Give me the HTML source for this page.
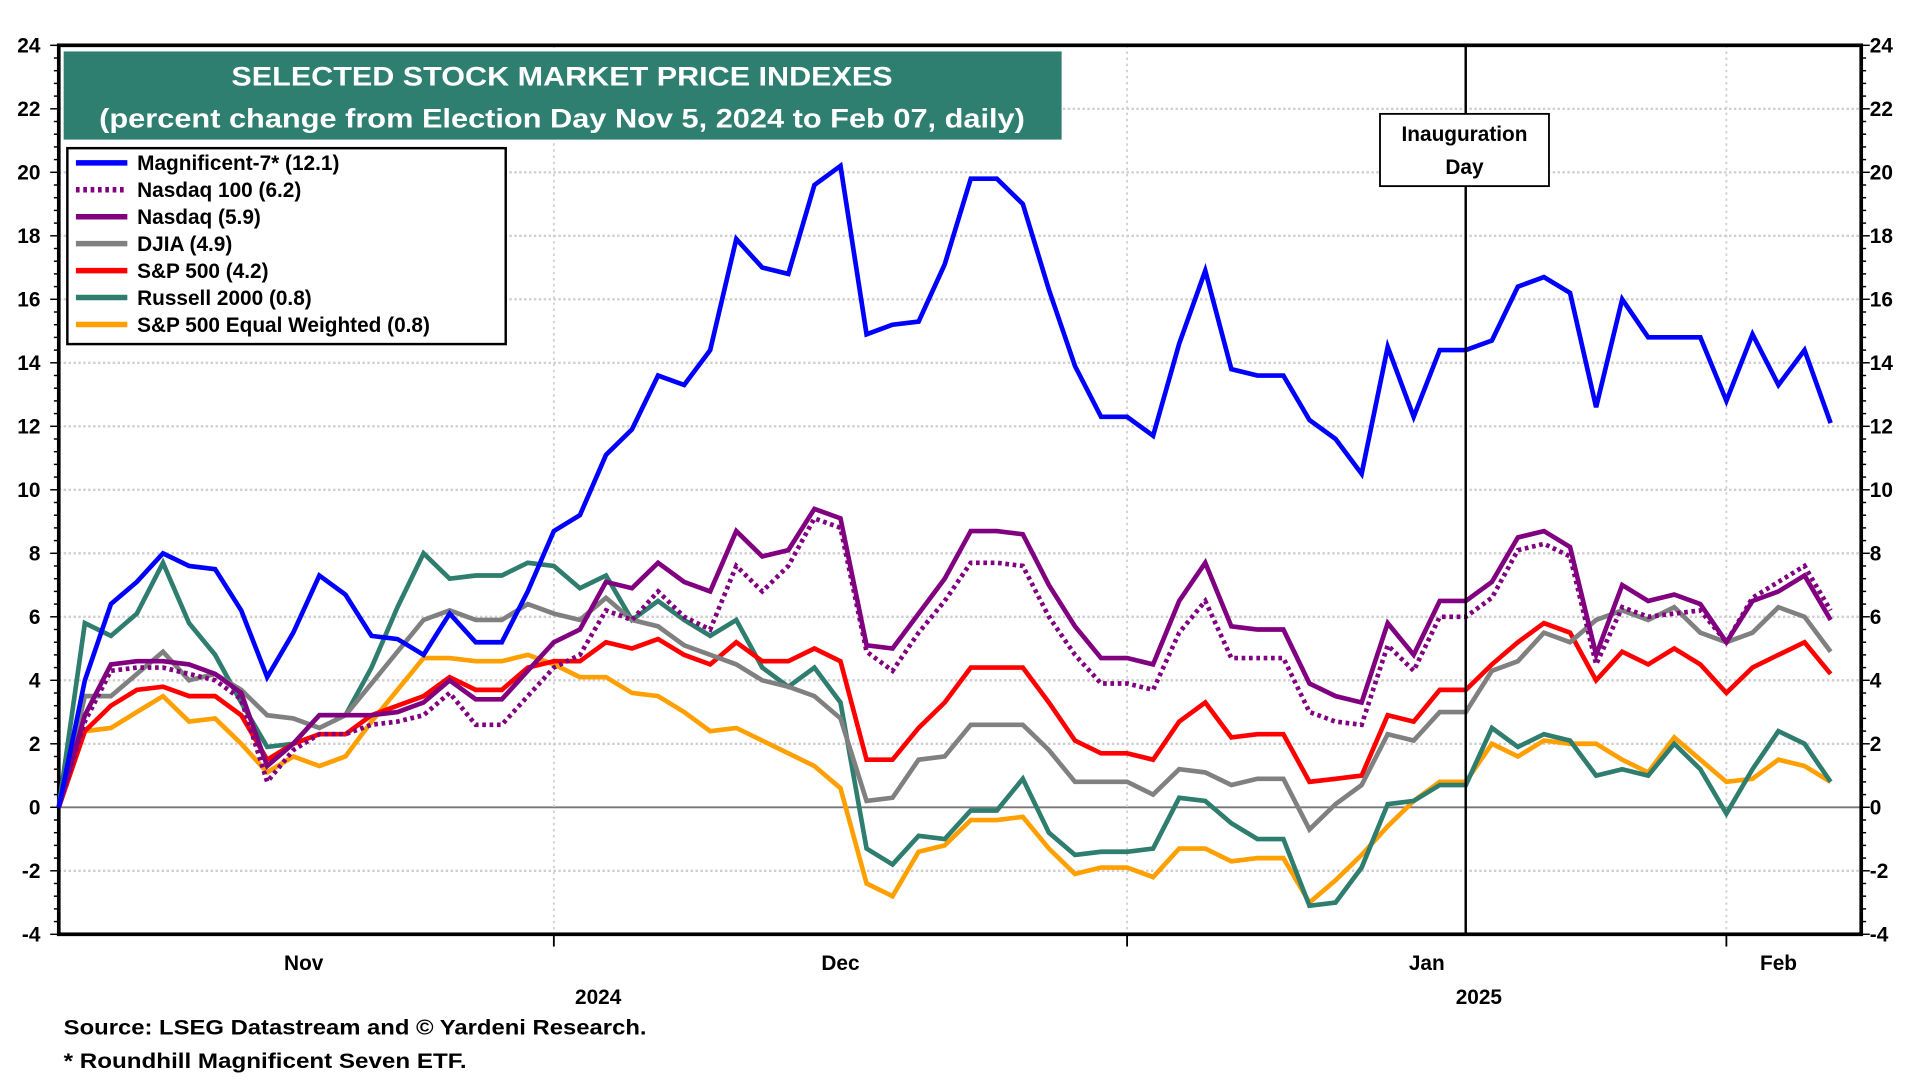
<!DOCTYPE html>
<html><head><meta charset="utf-8"><style>
html,body{margin:0;padding:0;background:#fff;}
svg{display:block;font-family:"Liberation Sans",Arial,sans-serif;font-weight:bold;}
</style></head><body>
<svg id="chart" width="1920" height="1080" viewBox="0 0 1568 882" preserveAspectRatio="none" xmlns="http://www.w3.org/2000/svg">
<g id="grid"></g>
<g id="axes"></g>
<g id="series"></g>
<g>
<rect x="52" y="42" width="815" height="72" fill="#2F7F70"/>
<text x="459" y="70" fill="#fff" font-size="22" text-anchor="middle" textLength="540" lengthAdjust="spacingAndGlyphs">SELECTED STOCK MARKET PRICE INDEXES</text>
<text x="459" y="104" fill="#fff" font-size="22" text-anchor="middle" textLength="756" lengthAdjust="spacingAndGlyphs">(percent change from Election Day Nov 5, 2024 to Feb 07, daily)</text>
</g>
<g id="legend">
<rect x="55" y="121" width="358" height="160" fill="#fff" stroke="#000" stroke-width="2"/>
</g>
<g>
<line x1="1197" y1="37" x2="1197" y2="763" stroke="#000" stroke-width="2"/>
<rect x="1127" y="93" width="138" height="59" fill="#fff" stroke="#000" stroke-width="1.5"/>
<text x="1196" y="115" font-size="17" text-anchor="middle">Inauguration</text>
<text x="1196" y="142" font-size="17" text-anchor="middle">Day</text>
</g>
<text x="52" y="845" font-size="17" textLength="476" lengthAdjust="spacingAndGlyphs">Source: LSEG Datastream and © Yardeni Research.</text>
<text x="52" y="872" font-size="17" textLength="329" lengthAdjust="spacingAndGlyphs">* Roundhill Magnificent Seven ETF.</text>
</svg>
<script>
const yTicks = [-4,-2,0,2,4,6,8,10,12,14,16,18,20,22,24];
const monthLabels = ["Nov","Dec","Jan","Feb"];
const monthLabelIdx = [9.4,30,52.5,66];
const monthStartIdx = [19,41,64];
const yearLabels = ["2024","2025"];
const yearLabelIdx = [20.7,54.5];
const inaugurationIdx = 54;
const seriesNames = ["Magnificent-7* (12.1)","Nasdaq 100 (6.2)","Nasdaq (5.9)","DJIA (4.9)","S&P 500 (4.2)","Russell 2000 (0.8)","S&P 500 Equal Weighted (0.8)"];
const mag7 = [0,4.0,6.4,7.1,8.0,7.6,7.5,6.2,4.1,5.5, 7.3,6.7,5.4,5.3,4.8,6.1,5.2,5.2,6.8,8.7, 9.2,11.1,11.9,13.6,13.3,14.4,17.9,17.0,16.8,19.6, 20.2,14.9,15.2,15.3,17.1,19.8,19.8,19.0,16.3,13.9, 12.3,12.3,11.7,14.6,16.9,13.8,13.6,13.6,12.2,11.6, 10.5,14.5,12.3,14.4,14.4,14.7,16.4,16.7,16.2,12.6, 16.0,14.8,14.8,14.8,12.8,14.9,13.3,14.4,12.1];
const nasdaq100 = [0,2.7,4.3,4.4,4.4,4.2,4.0,3.4,0.8,1.8, 2.3,2.3,2.6,2.7,2.9,3.6,2.6,2.6,3.5,4.4, 4.8,6.2,5.9,6.8,6.0,5.6,7.6,6.8,7.6,9.1, 8.8,4.9,4.3,5.5,6.5,7.7,7.7,7.6,6.0,4.8, 3.9,3.9,3.7,5.5,6.5,4.7,4.7,4.7,3.0,2.7, 2.6,5.1,4.3,6.0,6.0,6.6,8.1,8.3,7.9,4.5, 6.3,6.0,6.1,6.2,5.2,6.6,7.1,7.6,6.2];
const nasdaq = [0,2.9,4.5,4.6,4.6,4.5,4.2,3.6,1.3,2.0, 2.9,2.9,2.9,3.0,3.3,4.0,3.4,3.4,4.3,5.2, 5.6,7.1,6.9,7.7,7.1,6.8,8.7,7.9,8.1,9.4, 9.1,5.1,5.0,6.1,7.2,8.7,8.7,8.6,7.0,5.7, 4.7,4.7,4.5,6.5,7.7,5.7,5.6,5.6,3.9,3.5, 3.3,5.8,4.8,6.5,6.5,7.1,8.5,8.7,8.2,4.8, 7.0,6.5,6.7,6.4,5.2,6.5,6.8,7.3,5.9];
const djia = [0,3.5,3.5,4.2,4.9,4.0,4.2,3.7,2.9,2.8, 2.5,2.9,3.9,4.9,5.9,6.2,5.9,5.9,6.4,6.1, 5.9,6.6,5.9,5.7,5.1,4.8,4.5,4.0,3.8,3.5, 2.8,0.2,0.3,1.5,1.6,2.6,2.6,2.6,1.8,0.8, 0.8,0.8,0.4,1.2,1.1,0.7,0.9,0.9,-0.7,0.1, 0.7,2.3,2.1,3.0,3.0,4.3,4.6,5.5,5.2,5.9, 6.2,5.9,6.3,5.5,5.2,5.5,6.3,6.0,4.9];
const sp500 = [0,2.4,3.2,3.7,3.8,3.5,3.5,2.9,1.5,2.0, 2.3,2.3,2.9,3.2,3.5,4.1,3.7,3.7,4.4,4.6, 4.6,5.2,5.0,5.3,4.8,4.5,5.2,4.6,4.6,5.0, 4.6,1.5,1.5,2.5,3.3,4.4,4.4,4.4,3.3,2.1, 1.7,1.7,1.5,2.7,3.3,2.2,2.3,2.3,0.8,0.9, 1.0,2.9,2.7,3.7,3.7,4.5,5.2,5.8,5.5,4.0, 4.9,4.5,5.0,4.5,3.6,4.4,4.8,5.2,4.2];
const russell = [0,5.8,5.4,6.1,7.7,5.8,4.8,3.3,1.9,2.0, 2.9,2.9,4.4,6.3,8.0,7.2,7.3,7.3,7.7,7.6, 6.9,7.3,5.9,6.5,5.9,5.4,5.9,4.4,3.8,4.4, 3.3,-1.3,-1.8,-0.9,-1.0,-0.1,-0.1,0.9,-0.8,-1.5, -1.4,-1.4,-1.3,0.3,0.2,-0.5,-1.0,-1.0,-3.1,-3.0, -1.9,0.1,0.2,0.7,0.7,2.5,1.9,2.3,2.1,1.0, 1.2,1.0,2.0,1.2,-0.2,1.2,2.4,2.0,0.8];
const spEqual = [0,2.4,2.5,3.0,3.5,2.7,2.8,2.0,1.1,1.6, 1.3,1.6,2.7,3.7,4.7,4.7,4.6,4.6,4.8,4.5, 4.1,4.1,3.6,3.5,3.0,2.4,2.5,2.1,1.7,1.3, 0.6,-2.4,-2.8,-1.4,-1.2,-0.4,-0.4,-0.3,-1.3,-2.1, -1.9,-1.9,-2.2,-1.3,-1.3,-1.7,-1.6,-1.6,-3.0,-2.3, -1.5,-0.6,0.2,0.8,0.8,2.0,1.6,2.1,2.0,2.0, 1.5,1.1,2.2,1.5,0.8,0.9,1.5,1.3,0.8];

const NS = "http://www.w3.org/2000/svg";
const L = 48, R = 1520, T = 37, B = 763, N = 69;
const STEP = (1495 - 48) / (N - 1);
const yMin = -4, yMax = 24;
function xs(i){ return L + i * STEP; }
function ys(v){ return B - (v - yMin) / (yMax - yMin) * (B - T); }
function mk(tag, attrs, parent){ const e = document.createElementNS(NS, tag); for (const k in attrs) e.setAttribute(k, attrs[k]); parent.appendChild(e); return e; }

const grid = document.getElementById('grid');
const axes = document.getElementById('axes');
const series = document.getElementById('series');

yTicks.forEach(v => {
  if (v === yMin || v === yMax) return;
  const g = mk('line', {x1:L, x2:R, y1:ys(v), y2:ys(v), stroke: v===0 ? '#777' : '#cfcfcf', 'stroke-width': v===0 ? 1.5 : 2, 'stroke-dasharray': v===0 ? '' : '2,2'}, grid);
  
  
});
monthStartIdx.forEach(i => {
  const g = mk('line', {x1:xs(i), x2:xs(i), y1:T, y2:B, stroke:'#d0d0d0', 'stroke-width':1.5, 'stroke-dasharray':'2,3'}, grid);
  
  
  const t = mk('line', {x1:xs(i), x2:xs(i), y1:B, y2:B+10, stroke:'#000', 'stroke-width':1.5}, axes);
  
  
});
const frame = mk('rect', {x:L, y:T, width:R-L, height:B-T, fill:'none', stroke:'#000', 'stroke-width':3}, axes);


for (let v = yMin; v <= yMax + 0.001; v += 0.4) {
  const major = Math.abs(v - Math.round(v/2)*2) < 0.01;
  const len = major ? 7 : 4;
  mk('line', {x1:L-len, x2:L, y1:ys(v), y2:ys(v), stroke:'#000', 'stroke-width':1.2}, axes);
  mk('line', {x1:R, x2:R+len, y1:ys(v), y2:ys(v), stroke:'#000', 'stroke-width':1.2}, axes);
}
yTicks.forEach(v => {
  const a = mk('text', {x:33, y:ys(v)+6, 'font-size':17, 'text-anchor':'end'}, axes);
  a.textContent = v;
  
  
  const b = mk('text', {x:1527, y:ys(v)+6, 'font-size':17, 'text-anchor':'start'}, axes);
  b.textContent = v;
  
  
});
monthLabels.forEach((m, k) => {
  const t = mk('text', {x:xs(monthLabelIdx[k]), y:792, 'font-size':17, 'text-anchor':'middle'}, axes);
  t.textContent = m;
  
  
});
yearLabels.forEach((m, k) => {
  const t = mk('text', {x:xs(yearLabelIdx[k]), y:820, 'font-size':17, 'text-anchor':'middle'}, axes);
  t.textContent = m;
  
  
});

const defs = [
  {data: spEqual, color:'#FFA000', dash:'', name:'sp500-equal-weighted-line'},
  {data: russell, color:'#2E7D6E', dash:'', name:'russell-2000-line'},
  {data: sp500, color:'#FF0000', dash:'', name:'sp500-line'},
  {data: djia, color:'#808080', dash:'', name:'djia-line'},
  {data: nasdaq100, color:'#800080', dash:'3,3', name:'nasdaq-100-line'},
  {data: nasdaq, color:'#800080', dash:'', name:'nasdaq-line'},
  {data: mag7, color:'#0000FF', dash:'', name:'magnificent-7-line'}
];
defs.forEach(d => {
  const pts = d.data.map((v, i) => xs(i).toFixed(1) + ',' + ys(v).toFixed(1)).join(' ');
  const p = mk('polyline', {points:pts, fill:'none', stroke:d.color, 'stroke-width':3.8, 'stroke-linejoin':'miter', 'stroke-dasharray':d.dash}, series);
  
  
});

const legend = document.getElementById('legend');
const legColors = ['#0000FF','#800080','#800080','#808080','#FF0000','#2E7D6E','#FFA000'];
const legDash = ['','3,3','','','','',''];
seriesNames.forEach((n, k) => {
  const y = 133 + k * 22;
  const l = mk('line', {x1:62, x2:104, y1:y, y2:y, stroke:legColors[k], 'stroke-width':4.5, 'stroke-dasharray':legDash[k]}, legend);
  
  
  const t = mk('text', {x:112, y:y+6, 'font-size':17}, legend);
  t.textContent = n;
  
  
});
</script>
</body></html>
